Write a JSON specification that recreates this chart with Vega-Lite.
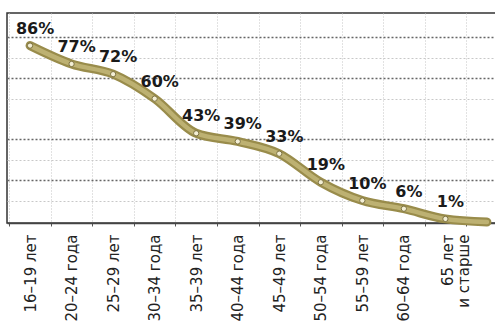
{
  "$schema": "https://vega.github.io/schema/vega-lite/v6.json",
  "width": 503,
  "height": 210,
  "autosize": {"type": "none"},
  "padding": {"left": 7, "top": 13, "right": 0, "bottom": 108},
  "background": "white",
  "config": {
    "view": {"stroke": "#333333", "strokeWidth": 1.5},
    "font": "DejaVu Sans"
  },
  "data": {
    "values": [
      {"age": "16–19 лет", "pct": 86, "label": "86%", "real": true},
      {"age": "20–24 года", "pct": 77, "label": "77%", "real": true},
      {"age": "25–29 лет", "pct": 72, "label": "72%", "real": true},
      {"age": "30–34 года", "pct": 60, "label": "60%", "real": true},
      {"age": "35–39 лет", "pct": 43, "label": "43%", "real": true},
      {"age": "40–44 года", "pct": 39, "label": "39%", "real": true},
      {"age": "45–49 лет", "pct": 33, "label": "33%", "real": true},
      {"age": "50–54 года", "pct": 19, "label": "19%", "real": true},
      {"age": "55–59 лет", "pct": 10, "label": "10%", "real": true},
      {"age": "60–64 года", "pct": 6, "label": "6%", "real": true},
      {"age": "65 лет и старше", "pct": 1, "label": "1%", "real": true},
      {"age": " ", "pct": -0.5, "label": "", "real": false}
    ]
  },
  "encoding": {
    "x": {
      "field": "age",
      "type": "nominal",
      "sort": null,
      "scale": {"type": "band", "paddingInner": 0, "paddingOuter": 0.055},
      "axis": {
        "title": null,
        "orient": "bottom",
        "tickBand": "extent",
        "grid": true,
        "gridColor": "#c4c4c4",
        "gridDash": [1, 2],
        "gridWidth": 1,
        "domainColor": "#444444",
        "domainWidth": 1.5,
        "ticks": true,
        "tickSize": 3,
        "tickColor": "#555555",
        "labelAngle": -90,
        "labelFont": "DejaVu Sans",
        "labelFontSize": 15,
        "labelColor": "#222222",
        "labelPadding": 8,
        "labelLineHeight": 16,
        "labelExpr": "datum.value == '65 лет и старше' ? ['65 лет', 'и старше'] : datum.value",
        "labelOffset": {"condition": {"test": "datum.value == '65 лет и старше'", "value": 2}, "value": 0}
      }
    },
    "y": {
      "field": "pct",
      "type": "quantitative",
      "scale": {"domain": [-1, 102], "nice": false, "zero": false},
      "axis": {
        "title": null,
        "labels": false,
        "ticks": false,
        "domain": false,
        "grid": true,
        "values": [10, 20, 30, 40, 60, 70, 80, 90],
        "gridDash": [2, 2],
        "gridColor": {"condition": {"test": "datum.value == 90 || datum.value == 70 || datum.value == 40 || datum.value == 20", "value": "#666666"}, "value": "#c8c8c8"},
        "gridWidth": {"condition": {"test": "datum.value == 90 || datum.value == 70 || datum.value == 40 || datum.value == 20", "value": 1.5}, "value": 1}
      }
    }
  },
  "layer": [
    {
      "mark": {"type": "line", "interpolate": "monotone", "stroke": "#998c4b", "strokeWidth": 9, "strokeCap": "round"}
    },
    {
      "mark": {"type": "line", "interpolate": "monotone", "stroke": "#bdb172", "strokeWidth": 4.5, "strokeCap": "round"}
    },
    {
      "transform": [{"filter": "datum.real"}],
      "mark": {"type": "point", "filled": true, "fill": "#f3efd6", "stroke": "#7d7240", "strokeWidth": 1, "size": 28, "opacity": 1}
    },
    {
      "transform": [{"filter": "datum.real"}],
      "mark": {"type": "text", "font": "DejaVu Sans", "fontWeight": "bold", "fontSize": 16, "align": "center", "baseline": "alphabetic", "dx": 5, "dy": -12},
      "encoding": {
        "text": {"field": "label", "type": "nominal"},
        "color": {"value": "#1a1a1a"}
      }
    }
  ]
}
